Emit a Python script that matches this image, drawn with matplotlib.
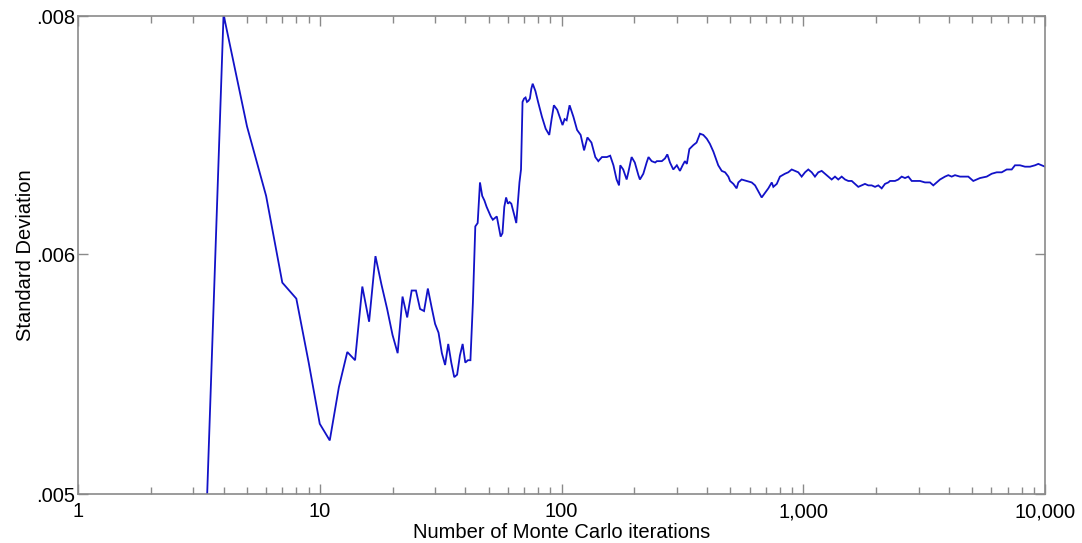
import numpy as np
import matplotlib
matplotlib.use("Agg")
import matplotlib.pyplot as plt
from matplotlib.ticker import LogLocator, NullFormatter, NullLocator

# ---- data ----
iterations = [3, 4, 5, 6, 7, 8, 9, 10, 11, 12, 13, 14, 15, 16, 17, 18, 19, 20,
              21, 22, 23, 24, 25, 26, 27, 28, 29, 30, 31, 32, 33, 34, 35, 36, 37,
              38, 39, 40, 41, 42, 43, 44, 45, 46, 47, 48, 49, 50, 51, 52, 53, 54,
              55, 56, 57, 58, 59, 60, 61, 62, 63, 64, 65, 66, 67, 68, 69, 70, 71,
              72, 73, 74, 75, 76, 78, 80, 83, 86, 89, 91, 93, 96, 99, 101, 103,
              105, 108, 112, 116, 120, 124, 128, 133, 138, 142, 147, 154, 159,
              164, 169, 173, 175, 180, 186, 189, 195, 201, 208, 211, 218, 225,
              229, 236, 244, 248, 260, 268, 274, 281, 290, 300, 309, 317, 324,
              330, 338, 351, 362, 374, 386, 399, 411, 425, 445, 460, 475, 490,
              498, 514, 530, 539, 556, 584, 612, 632, 652, 673, 695, 717, 741,
              752, 777, 801, 840, 867, 896, 924, 954, 985, 1017, 1049, 1084,
              1118, 1154, 1192, 1230, 1269, 1311, 1353, 1396, 1442, 1489, 1536,
              1587, 1637, 1689, 1745, 1800, 1858, 1919, 1981, 2044, 2111, 2178,
              2248, 2285, 2396, 2473, 2554, 2636, 2720, 2810, 2899, 3040, 3188,
              3344, 3451, 3565, 3679, 3858, 3981, 4112, 4243, 4450, 4667, 4816,
              5050, 5217, 5383, 5740, 6019, 6313, 6621, 6943, 7283, 7514, 7882,
              8265, 8670, 9092, 9382, 9692, 10000]

std_dev = [0.00406, 0.00802, 0.00686, 0.00635, 0.00585, 0.00577, 0.00548, 0.00524,
           0.00518, 0.00538, 0.005525, 0.00549, 0.00583, 0.00566, 0.00599, 0.00584,
           0.00572, 0.00560, 0.00552, 0.00578, 0.00568, 0.00581, 0.00581, 0.00572,
           0.00571, 0.00582, 0.00573, 0.00565, 0.00561, 0.00552, 0.00547, 0.00556,
           0.00548, 0.00542, 0.00543, 0.00551, 0.00556, 0.00548, 0.00549, 0.00549,
           0.00575, 0.00616, 0.00618, 0.00644, 0.00635, 0.00632, 0.00628, 0.00625,
           0.00622, 0.00620, 0.00621, 0.00622, 0.00616, 0.00610, 0.00612, 0.00628,
           0.00634, 0.00630, 0.00631, 0.00630, 0.00626, 0.00622, 0.00618, 0.00631,
           0.00644, 0.00653, 0.00707, 0.00710, 0.00711, 0.00707, 0.00708, 0.00710,
           0.00719, 0.00724, 0.00717, 0.00707, 0.00694, 0.00684, 0.00679, 0.00692,
           0.00704, 0.00700, 0.00692, 0.00687, 0.00692, 0.00691, 0.00704, 0.00694,
           0.00683, 0.00679, 0.00667, 0.00677, 0.00673, 0.00662, 0.00659, 0.00662,
           0.00662, 0.00663, 0.00656, 0.00646, 0.00642, 0.00656, 0.00653, 0.00646,
           0.00651, 0.00662, 0.00658, 0.00649, 0.00646, 0.00650, 0.00658, 0.00662,
           0.00659, 0.00658, 0.00659, 0.00659, 0.00661, 0.00664, 0.00658, 0.00653,
           0.00656, 0.00652, 0.00656, 0.00659, 0.00657, 0.00668, 0.00671, 0.00673,
           0.00680, 0.00679, 0.00676, 0.00672, 0.00666, 0.00656, 0.00652, 0.00651,
           0.00648, 0.00645, 0.00643, 0.00640, 0.00644, 0.00646, 0.00645, 0.00644,
           0.00642, 0.00638, 0.00634, 0.00637, 0.00640, 0.00644, 0.00641, 0.00643,
           0.00648, 0.00650, 0.00651, 0.00653, 0.00652, 0.00651, 0.00648, 0.00651,
           0.00653, 0.00651, 0.00648, 0.00651, 0.00652, 0.00650, 0.00648, 0.00646,
           0.00648, 0.00646, 0.00648, 0.00646, 0.00645, 0.00645, 0.00643, 0.00641,
           0.00642, 0.00643, 0.00642, 0.00642, 0.00641, 0.00642, 0.00640, 0.00643,
           0.00644, 0.00645, 0.00645, 0.00646, 0.00648, 0.00647, 0.00648, 0.00645,
           0.00645, 0.00645, 0.00644, 0.00644, 0.00642, 0.00644, 0.00646, 0.00648,
           0.00649, 0.00648, 0.00649, 0.00648, 0.00648, 0.00648, 0.00645, 0.00646,
           0.00647, 0.00648, 0.00650, 0.00651, 0.00651, 0.00653, 0.00653, 0.00656,
           0.00656, 0.00655, 0.00655, 0.00656, 0.00657, 0.00656, 0.00655]

x_ticks = [1, 10, 100, 1000, 10000]
x_tick_labels = ["1", "10", "100", "1,000", "10,000"]
y_ticks = [0.005, 0.006, 0.008]
y_tick_labels = [".005", ".006", ".008"]

plt.rcParams['font.family'] = ['Liberation Sans', 'DejaVu Sans']

fig = plt.figure(figsize=(10.82, 5.43), dpi=100)
ax = fig.add_axes([78 / 1082, 1 - 494 / 543, (1045 - 78) / 1082, (494 - 16) / 543])


def fwd(y):
    y = np.asarray(y, dtype=float)
    return -1.0 / np.square(np.maximum(y, 1e-6))


def inv(z):
    z = np.asarray(z, dtype=float)
    return 1.0 / np.sqrt(np.maximum(-z, 1e-12))


ax.plot(iterations, std_dev, color='#1212c8', lw=1.3, solid_joinstyle='miter')

ax.set_xscale('log')
ax.set_yscale('function', functions=(fwd, inv))
ax.set_xlim(1, 10000)
ax.set_ylim(0.005, 0.008)

ax.set_xticks(x_ticks, labels=x_tick_labels)
ax.xaxis.set_minor_locator(LogLocator(base=10, subs=np.arange(2, 10)))
ax.xaxis.set_minor_formatter(NullFormatter())
ax.set_yticks(y_ticks, labels=y_tick_labels)
ax.yaxis.set_minor_locator(NullLocator())

for s in ax.spines.values():
    s.set_color('#8a8a8a')
    s.set_linewidth(1.2)

ax.tick_params(which='both', direction='in', top=True, right=True,
               color='#8a8a8a', labelsize=14.5, labelcolor='black')
ax.tick_params(axis='y', pad=2)
ax.tick_params(axis='x', pad=6)
ax.tick_params(which='major', length=7, width=1)
ax.tick_params(which='minor', length=5, width=1)

ax.set_xlabel("Number of Monte Carlo iterations", fontsize=14.5, labelpad=1)
ax.set_ylabel("Standard Deviation", fontsize=14.5, labelpad=1)

fig.savefig("out.png", dpi=100)
